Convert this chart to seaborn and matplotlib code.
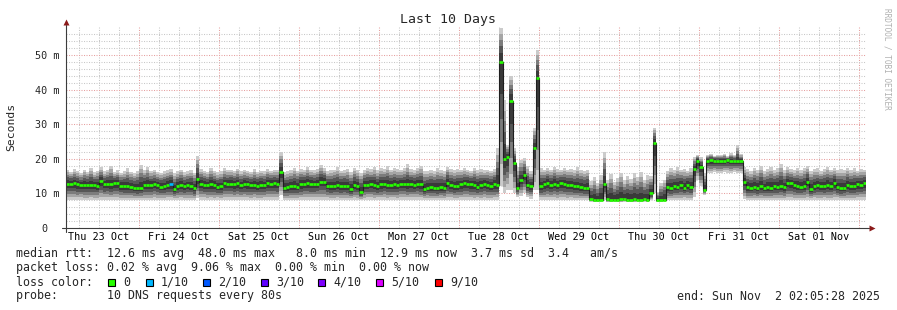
import numpy as np
import pandas as pd
import matplotlib
matplotlib.use("Agg")
import matplotlib.pyplot as plt
import matplotlib.transforms as mtransforms
import seaborn as sns

# ---------------- data ----------------
# hours counted from Thu 23 Oct 00:00; graph starts at 02:05:28, one bin per hour
start_hour = 2.0 + 5 / 60 + 28 / 3600
day_labels = ["Thu 23 Oct", "Fri 24 Oct", "Sat 25 Oct", "Sun 26 Oct", "Mon 27 Oct",
              "Tue 28 Oct", "Wed 29 Oct", "Thu 30 Oct", "Fri 31 Oct", "Sat 01 Nov"]
y_tick_values = [0, 10, 20, 30, 40, 50]
y_tick_labels = ["0", "10 m", "20 m", "30 m", "40 m", "50 m"]

# median rtt (ms), hourly
median_rtt = [
    12.8, 12.7, 12.9, 12.6, 12.5, 12.4, 12.4, 12.3, 12.5, 12.2,
    13.6, 12.7, 12.8, 12.6, 13.0, 12.9, 12.2, 12.0, 12.1, 11.9,
    11.7, 11.5, 11.6, 12.3, 12.5, 12.4, 12.6, 12.3, 11.9, 12.0,
    12.4, 12.6, 11.2, 12.1, 12.4, 12.0, 12.3, 12.2, 11.6, 14.2,
    12.8, 12.5, 12.3, 12.6, 12.4, 11.8, 12.0, 12.9, 12.7, 12.8,
    12.6, 12.9, 12.4, 12.7, 12.6, 12.3, 12.5, 12.2, 12.4, 12.3,
    12.9, 12.8, 12.9, 12.7, 16.2, 11.7, 11.8, 12.0, 12.1, 11.9,
    12.6, 12.8, 12.9, 12.7, 12.6, 12.8, 13.4, 13.4, 12.2, 12.0,
    12.2, 12.3, 12.1, 12.2, 12.0, 11.3, 12.4, 12.2, 10.5, 12.3,
    12.5, 12.7, 12.4, 12.1, 12.6, 12.8, 12.5, 12.3, 12.6, 12.4,
    12.7, 12.8, 12.6, 12.7, 12.5, 12.8, 12.6, 11.4, 11.7, 11.8,
    11.7, 11.6, 11.8, 11.7, 13.1, 12.4, 12.0, 12.2, 12.6, 12.9,
    12.8, 12.6, 12.4, 11.9, 12.3, 12.7, 12.5, 12.2, 12.6, 12.5,
    48.0, 20.0, 20.5, 36.7, 18.8, 11.6, 13.9, 15.3, 12.4, 12.0,
    23.0, 43.3, 12.0, 12.6, 12.9, 12.4, 12.8, 12.5, 12.9, 12.7,
    12.4, 12.3, 12.1, 12.0, 11.8, 11.5, 11.6, 8.3, 8.1, 8.0,
    8.2, 12.7, 8.3, 8.1, 8.2, 8.0, 8.3, 8.4, 8.2, 8.1,
    8.3, 8.2, 8.0, 8.4, 8.1, 10.0, 24.6, 8.0, 8.1, 8.2,
    11.8, 11.6, 12.0, 11.9, 12.3, 11.7, 12.4, 11.9, 17.0, 19.4,
    17.6, 11.0, 19.4, 19.6, 19.5, 19.3, 19.5, 19.4, 19.6, 19.5,
    19.3, 19.4, 19.5, 13.3, 11.8, 11.7, 11.9, 11.6, 12.0, 11.5,
    11.8, 11.7, 12.1, 11.9, 12.2, 11.8, 13.0, 12.9, 12.3, 12.1,
    11.9, 12.2, 13.4, 11.4, 12.0, 12.3, 12.2, 12.1, 12.4, 12.2,
    13.0, 11.8, 11.6, 11.7, 12.3, 12.0, 12.1, 12.6, 12.5, 12.9,
]

# slowest ping per hour (ms)
ping_max = [
    16.8, 16.2, 17.0, 16.5, 15.8, 16.9, 16.3, 17.4, 16.1, 16.6,
    17.5, 16.4, 16.8, 17.9, 16.2, 16.7, 16.0, 16.5, 17.2, 16.3,
    15.9, 16.4, 18.3, 16.8, 17.6, 16.5, 16.9, 16.3, 16.0, 16.4,
    16.7, 17.0, 15.8, 16.4, 16.9, 16.2, 16.5, 16.8, 16.0, 20.8,
    17.0, 16.6, 16.3, 17.3, 16.5, 16.1, 16.4, 17.2, 16.8, 16.9,
    16.6, 17.1, 16.4, 16.8, 16.5, 16.2, 17.0, 16.3, 16.6, 16.4,
    17.0, 16.6, 16.9, 16.8, 22.0, 16.2, 16.5, 16.9, 17.4, 16.6,
    17.1, 16.8, 17.6, 16.9, 16.7, 17.0, 18.1, 17.3, 16.5, 16.7,
    16.9, 17.5, 16.6, 16.8, 17.0, 16.3, 17.4, 16.7, 16.0, 16.8,
    17.2, 17.0, 17.6, 16.7, 17.3, 17.1, 17.8, 16.9, 17.4, 17.0,
    16.8, 17.2, 18.4, 17.0, 16.7, 17.3, 17.9, 16.4, 16.6, 16.9,
    16.5, 17.2, 16.8, 16.6, 17.7, 17.0, 16.7, 17.1, 16.8, 17.2,
    16.9, 16.6, 17.3, 16.8, 17.0, 16.7, 16.9, 16.6, 17.0, 23.0,
    57.8, 37.0, 24.0, 44.0, 23.0, 17.5, 19.7, 20.2, 18.0, 16.5,
    29.0, 51.4, 17.2, 16.8, 17.3, 16.9, 17.6, 17.0, 16.8, 17.4,
    16.9, 17.1, 16.7, 17.5, 16.8, 16.5, 16.9, 13.5, 14.8, 12.9,
    15.2, 22.0, 14.0, 15.6, 13.2, 14.5, 16.0, 13.8, 15.1, 14.2,
    15.8, 14.6, 16.2, 13.9, 15.3, 15.0, 29.0, 10.5, 13.0, 14.0,
    16.5, 17.2, 16.8, 17.5, 16.9, 17.0, 16.6, 17.3, 20.5, 21.0,
    20.5, 16.0, 21.0, 21.4, 20.9, 21.2, 21.0, 21.5, 20.8, 21.6,
    21.2, 24.0, 21.3, 17.5, 17.0, 16.6, 17.4, 16.8, 17.9, 16.5,
    17.0, 17.6, 16.8, 17.2, 18.4, 16.9, 17.5, 17.0, 16.7, 17.3,
    16.8, 17.4, 17.9, 16.6, 17.0, 17.2, 16.5, 17.1, 17.6, 16.9,
    17.3, 16.8, 17.0, 16.7, 17.4, 16.9, 17.2, 16.6, 17.0, 16.8,
]

# fastest ping per hour (ms)
ping_min = [
    8.0, 8.1, 8.0, 8.0, 8.2, 8.0, 8.0, 8.1, 8.0, 8.0,
    8.0, 8.0, 8.2, 8.0, 8.0, 8.1, 8.0, 8.0, 8.0, 8.1,
    8.0, 8.0, 8.1, 8.0, 8.0, 8.0, 8.2, 8.0, 8.0, 8.0,
    8.1, 8.0, 8.0, 8.0, 8.1, 8.0, 8.0, 8.0, 8.0, 8.6,
    8.0, 8.1, 8.0, 8.0, 8.0, 8.2, 8.0, 8.0, 8.1, 8.0,
    8.0, 8.0, 8.1, 8.0, 8.0, 8.0, 8.2, 8.0, 8.0, 8.1,
    8.0, 8.0, 8.1, 8.0, 9.6, 8.0, 8.0, 8.1, 8.0, 8.0,
    8.0, 8.2, 8.0, 8.0, 8.1, 8.0, 8.0, 8.0, 8.2, 8.0,
    8.0, 8.1, 8.0, 8.0, 8.0, 8.0, 8.1, 8.0, 8.0, 8.0,
    8.2, 8.0, 8.0, 8.1, 8.0, 8.0, 8.0, 8.2, 8.0, 8.0,
    8.1, 8.0, 8.0, 8.0, 8.2, 8.0, 8.0, 8.0, 8.1, 8.0,
    8.0, 8.0, 8.1, 8.0, 8.0, 8.2, 8.0, 8.0, 8.0, 8.1,
    8.0, 8.0, 8.0, 8.2, 8.0, 8.1, 8.0, 8.0, 8.0, 8.1,
    12.0, 10.0, 11.0, 11.0, 10.0, 9.0, 9.2, 10.0, 9.0, 8.5,
    11.0, 11.0, 8.2, 8.0, 8.0, 8.1, 8.0, 8.0, 8.2, 8.0,
    8.0, 8.1, 8.0, 8.0, 8.0, 8.0, 8.0, 7.6, 7.5, 7.5,
    7.6, 8.0, 7.5, 7.5, 7.6, 7.5, 7.5, 7.6, 7.5, 7.5,
    7.5, 7.6, 7.5, 7.5, 7.5, 8.0, 10.0, 7.5, 7.5, 7.6,
    8.0, 8.0, 8.1, 8.0, 8.0, 8.2, 8.0, 8.0, 9.0, 14.0,
    12.0, 9.5, 16.0, 15.8, 16.2, 16.0, 15.9, 16.1, 16.0, 15.8,
    16.2, 16.0, 15.9, 8.5, 8.0, 8.0, 8.1, 8.0, 8.0, 8.2,
    8.0, 8.0, 8.0, 8.1, 8.0, 8.0, 8.2, 8.0, 8.0, 8.0,
    8.1, 8.0, 8.0, 8.0, 8.2, 8.0, 8.0, 8.1, 8.0, 8.0,
    8.0, 8.2, 8.0, 8.0, 8.0, 8.1, 8.0, 8.0, 8.2, 8.0,
]

# hours with packet loss (index -> loss level)
loss_bins = {31: "1/10"}
loss_levels = ["0", "1/10", "2/10", "3/10", "4/10", "5/10", "9/10"]
loss_colors = ["#26ff00", "#00b8ff", "#0059ff", "#5e00ff", "#7e00ff", "#dd00ff", "#ff0000"]

legend_lines = [
    "median rtt:  12.6 ms avg  48.0 ms max   8.0 ms min  12.9 ms now  3.7 ms sd  3.4   am/s",
    "packet loss: 0.02 % avg  9.06 % max  0.00 % min  0.00 % now",
    "loss color:",
    "probe:       10 DNS requests every 80s",
]
end_text = "end: Sun Nov  2 02:05:28 2025"

# ---------------- drawing ----------------
sns.set_style("white")
plt.rcParams["font.family"] = ["DejaVu Sans Mono", "DejaVu Sans"]

W, H = 897, 310
fig = plt.figure(figsize=(W / 100, H / 100), dpi=100)
fig.patch.set_facecolor("white")
ax = fig.add_axes([66 / W, 1 - 228 / H, 800 / W, 201 / H])

med = np.array(median_rtt)
hi = np.array(ping_max)
lo = np.array(ping_min)
n = len(med)
edges = start_hour + np.arange(n + 1)
x0, x1 = edges[0], edges[-1]
ymax = 58.1


def ext(a):
    return np.append(a, a[-1])


# grid (under data)
grid_minor = "#c8c8c8"
grid_major = "#e6a0a0"
dot = (0, (1, 1.4))
for h in np.arange(6, 246, 6):
    if x0 < h < x1:
        c = grid_major if h % 24 == 0 else grid_minor
        ax.vlines(h, 0, ymax, colors=c, linestyles=dot, lw=0.75, zorder=1)
for v in np.arange(2, 58, 2):
    c = grid_major if v % 10 == 0 else grid_minor
    ax.hlines(v, x0, x1, colors=c, linestyles=dot, lw=0.75, zorder=1)

# smoke
fracs = [1.0, 0.82, 0.64, 0.46, 0.26]
shades = ["#cbcbcb", "#a5a5a5", "#7c7c7c", "#575757", "#3a3a3a"]
for f, c in zip(fracs, shades):
    top = med + f * (hi - med)
    bot = med - f * (med - lo)
    ax.fill_between(edges, ext(bot), ext(top), step="post", color=c, lw=0, zorder=2)

# median
df = pd.DataFrame({"t": edges, "rtt": ext(med)})
sns.lineplot(data=df, x="t", y="rtt", drawstyle="steps-post", color="#1e1e1e",
             lw=0.8, ax=ax, zorder=3)
cols = [loss_colors[loss_levels.index(loss_bins[i])] if i in loss_bins else loss_colors[0]
        for i in range(n)]
ax.hlines(med, edges[:-1], edges[1:], colors=cols, lw=1.9, zorder=4)

ax.set_xlim(x0, x1)
ax.set_ylim(0, ymax)
ax.set_xlabel("")
ax.set_ylabel("")
for s in ax.spines.values():
    s.set_visible(False)

# axes lines + arrows
axis_c = "#3c3c3c"
ax.plot([-4 / 800, 1 + 3 / 800], [0, 0], transform=ax.transAxes, color=axis_c, lw=0.8,
        clip_on=False, zorder=6)
ax.plot([0, 0], [-4 / 201, 1 + 2 / 201], transform=ax.transAxes, color=axis_c, lw=0.8,
        clip_on=False, zorder=6)
ax.plot([1 + 6 / 800], [0], marker=">", ms=4, color="#8b1a1a", transform=ax.transAxes,
        clip_on=False, zorder=7, mec="none")
ax.plot([0], [1 + 5 / 201], marker="^", ms=4, color="#8b1a1a", transform=ax.transAxes,
        clip_on=False, zorder=7, mec="none")

# ticks
noons = [12 + 24 * k for k in range(len(day_labels))]
ax.set_xticks(noons)
ax.set_xticklabels(day_labels)
ax.tick_params(axis="x", length=0, pad=3.2, labelsize=7.3, colors="#000000")
ax.set_yticks(y_tick_values)
ax.set_yticklabels(y_tick_labels)
ax.tick_params(axis="y", length=2.4, width=0.8, color=axis_c, pad=2.0, labelsize=7.3,
               direction="out")
for lab in ax.get_yticklabels():
    if lab.get_text() == "0":
        lab.set_transform(lab.get_transform() +
                          mtransforms.ScaledTranslation(-0.12, 0, fig.dpi_scale_trans))

# texts
fig.text(448 / W, 1 - 19 / H, "Last 10 Days", ha="center", va="center", fontsize=9.5)
fig.text(11 / W, 1 - 127 / H, "Seconds", rotation=90, ha="center", va="center", fontsize=8.2)
fig.text(887 / W, 1 - 59 / H, "RRDTOOL / TOBI OETIKER", rotation=270, ha="center",
         va="center", fontsize=5.6, color="#b0b0b0")

row_y = [254, 268, 282, 296]
for txt, yy in zip(legend_lines, row_y):
    fig.text(16 / W, 1 - yy / H, txt, ha="left", va="center", fontsize=8.4)
fig.text(880 / W, 1 - 296 / H, end_text, ha="right", va="center", fontsize=8.4)

box_x = [108, 146, 203, 261, 318, 376, 435]
for bx, lvl, c in zip(box_x, loss_levels, loss_colors):
    fig.patches.append(plt.Rectangle((bx / W, 1 - 286 / H), 7 / W, 7 / H,
                                     transform=fig.transFigure, facecolor=c,
                                     edgecolor="black", lw=0.8))
    fig.text((bx + 15) / W, 1 - 282 / H, lvl, ha="left", va="center", fontsize=8.4)

fig.savefig("out.png", dpi=100)
